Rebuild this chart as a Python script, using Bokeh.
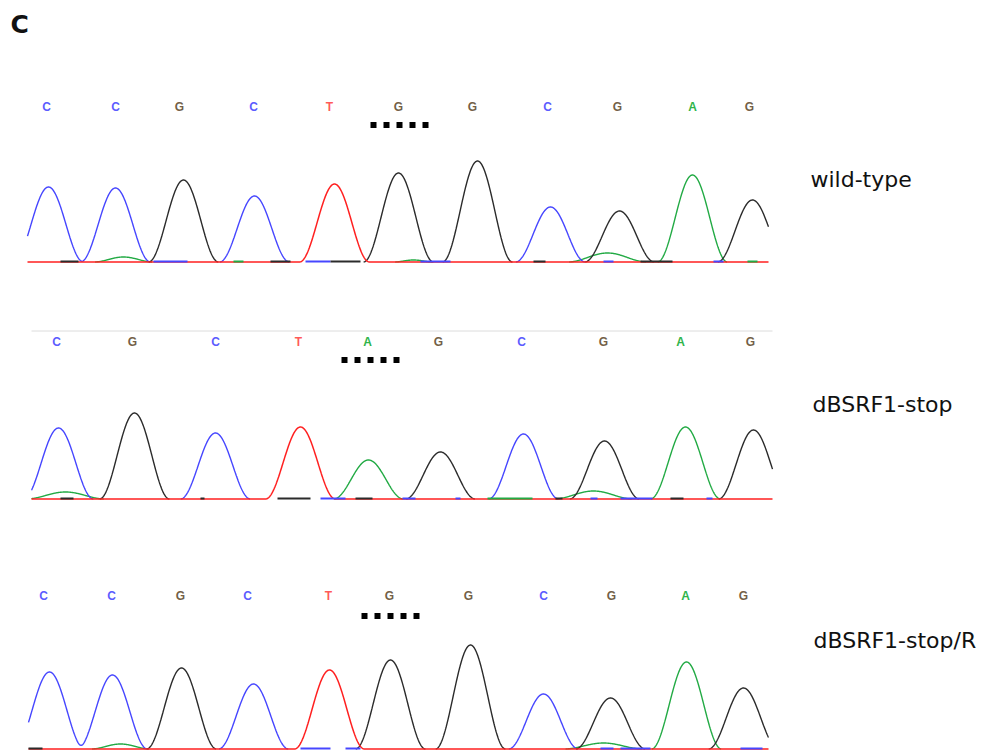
import numpy as np
from bokeh.plotting import figure
from bokeh.models import Range1d, ColumnDataSource
from bokeh.core.properties import value
from bokeh.embed import file_html
from bokeh.resources import INLINE

# ---------------- data ----------------
panel_labels = ["wild-type", "dBSRF1-stop", "dBSRF1-stop/R"]

# base calls (letters), their positions, and the main peaks of each trace
wt_bases = ["C", "C", "G", "C", "T", "G", "G", "C", "G", "A", "G"]
wt_base_x = [46, 115, 179, 253, 329, 398, 472, 547, 617, 692, 749]
wt_peak_x = [48, 115, 183, 254, 334, 398, 477, 550, 619, 692, 752]
wt_peak_h = [75, 74, 82, 66, 78, 89, 101, 55, 51, 87, 62]
wt_minor_x = [123, 413, 607]
wt_minor_h = [5, 2, 9]
wt_minor_w = [30, 20, 40]
wt_noise_x0 = [60, 153, 233, 270, 305, 330, 420, 533, 603, 640, 713, 747]
wt_noise_x1 = [78, 187, 243, 290, 330, 360, 450, 545, 613, 672, 723, 757]
wt_noise_b = ["G", "C", "A", "G", "C", "G", "C", "G", "C", "G", "C", "A"]

st_bases = ["C", "G", "C", "T", "A", "G", "C", "G", "A", "G"]
st_base_x = [56, 132, 215, 298, 367, 438, 521, 603, 680, 750]
st_peak_x = [58, 134, 215, 300, 368, 440, 523, 604, 685, 753]
st_peak_h = [71, 86, 66, 72, 39, 47, 65, 58, 72, 69]
st_minor_x = [65, 593]
st_minor_h = [7, 8]
st_minor_w = [40, 40]
st_noise_x0 = [60, 200, 277, 320, 355, 402, 455, 487, 555, 590, 620, 670, 706]
st_noise_x1 = [73, 204, 310, 345, 372, 415, 460, 532, 562, 597, 652, 683, 712]
st_noise_b = ["G", "G", "G", "C", "G", "C", "C", "A", "G", "C", "C", "G", "C"]

rv_bases = ["C", "C", "G", "C", "T", "G", "G", "C", "G", "A", "G"]
rv_base_x = [43, 111, 180, 247, 328, 389, 468, 543, 611, 685, 743]
rv_peak_x = [49, 112, 181, 253, 329, 390, 470, 543, 610, 686, 743]
rv_peak_h = [77, 74, 81, 65, 79, 89, 104, 55, 51, 87, 61]
rv_minor_x = [120, 603]
rv_minor_h = [5, 6]
rv_minor_w = [30, 40]
rv_noise_x0 = [28, 300, 345, 600, 620, 740]
rv_noise_x1 = [42, 330, 360, 613, 650, 762]
rv_noise_b = ["G", "C", "C", "C", "C", "C"]

# ---------------- layout / style ----------------
W, H = 987, 751
PEAK_HALF = 35.0
trace_color = {"C": "#4646ff", "G": "#2b2b2b", "T": "#ff2020", "A": "#22aa44"}
letter_color = {"C": "#5c5cff", "G": "#735f48", "T": "#ff5a5a", "A": "#30b44a"}

panels = [
    dict(bases=wt_bases, bx=wt_base_x, px=wt_peak_x, ph=wt_peak_h,
         mx=wt_minor_x, mh=wt_minor_h, mw=wt_minor_w,
         nx0=wt_noise_x0, nx1=wt_noise_x1, nb=wt_noise_b,
         x0=27, x1=768, base=262, letter_y=107, dots=(373, 425, 125),
         label_xy=(810, 179), gray=None),
    dict(bases=st_bases, bx=st_base_x, px=st_peak_x, ph=st_peak_h,
         mx=st_minor_x, mh=st_minor_h, mw=st_minor_w,
         nx0=st_noise_x0, nx1=st_noise_x1, nb=st_noise_b,
         x0=31, x1=772, base=499, letter_y=342, dots=(344, 396, 360),
         label_xy=(812, 404), gray=331),
    dict(bases=rv_bases, bx=rv_base_x, px=rv_peak_x, ph=rv_peak_h,
         mx=rv_minor_x, mh=rv_minor_h, mw=rv_minor_w,
         nx0=rv_noise_x0, nx1=rv_noise_x1, nb=rv_noise_b,
         x0=28, x1=768, base=749, letter_y=596, dots=(364, 416, 616),
         label_xy=(813, 640), gray=None),
]

p = figure(width=W, height=H, output_backend="svg", toolbar_location=None,
           x_range=Range1d(0, W), y_range=Range1d(H + 0.5, 0.5),
           x_axis_type=None, y_axis_type=None, min_border=0)
p.outline_line_color = None
p.grid.visible = False
p.background_fill_color = "white"
p.border_fill_color = "white"


def bump(x, c, h, w):
    d = np.abs(x - c)
    out = h * np.cos(np.pi * d / (2 * w)) ** 2
    out[d >= w] = 0.0
    return out


for pn in panels:
    xs = np.linspace(pn["x0"], pn["x1"], 1500)
    sig = {b: np.zeros_like(xs) for b in "ACGT"}
    for b, c, h in zip(pn["bases"], pn["px"], pn["ph"]):
        sig[b] += bump(xs, c, h, PEAK_HALF)
    for c, h, w in zip(pn["mx"], pn["mh"], pn["mw"]):
        sig["A"] += bump(xs, c, h, w)
    for b in ["A", "C", "G"]:
        yv = pn["base"] - sig[b]
        # hide the flat part of the trace (the red trace draws the baseline)
        flat = sig[b] < 0.05
        keep = ~(flat & np.roll(flat, 1) & np.roll(flat, -1))
        yv = np.where(keep, yv, np.nan)
        p.line(xs, yv, line_color=trace_color[b], line_width=1.4)
    p.line(xs, pn["base"] - sig["T"], line_color=trace_color["T"], line_width=1.5)

    # small coloured noise dashes on the baseline
    p.segment(x0=pn["nx0"], x1=pn["nx1"], y0=[pn["base"] - 0.5] * len(pn["nx0"]),
              y1=[pn["base"] - 0.5] * len(pn["nx0"]),
              line_color=[trace_color[b] for b in pn["nb"]], line_width=2)

    # gray separator at top of the panel
    if pn["gray"] is not None:
        p.segment(x0=[pn["x0"]], y0=[pn["gray"]], x1=[pn["x1"]], y1=[pn["gray"]],
                  line_color="#dcdcdc", line_width=1)

    # base call letters
    src = ColumnDataSource(dict(x=pn["bx"], y=[pn["letter_y"]] * len(pn["bx"]),
                                t=pn["bases"], c=[letter_color[b] for b in pn["bases"]]))
    p.text(x="x", y="y", text="t", text_color="c", source=src,
           text_font=value("Liberation Sans"), text_font_size="12px",
           text_font_style="bold", text_align="center", text_baseline="middle")

    # dotted marker over the mutation site
    d0, d1, dy = pn["dots"]
    dx = np.linspace(d0, d1, 5)
    p.scatter(dx, [dy] * 5, marker="square", size=6, fill_color="black",
              line_color=None)

for lab, pn in zip(panel_labels, panels):
    lx, ly = pn["label_xy"]
    p.text(x=[lx], y=[ly], text=[lab], text_font=value("DejaVu Sans"),
           text_font_size="22px", text_color="#111111",
           text_align="left", text_baseline="middle")

p.text(x=[10], y=[24], text=["C"], text_font=value("DejaVu Sans"),
       text_font_size="25px", text_font_style="bold", text_color="#111111",
       text_align="left", text_baseline="middle")

open("out.html", "w").write(file_html(p, INLINE))
